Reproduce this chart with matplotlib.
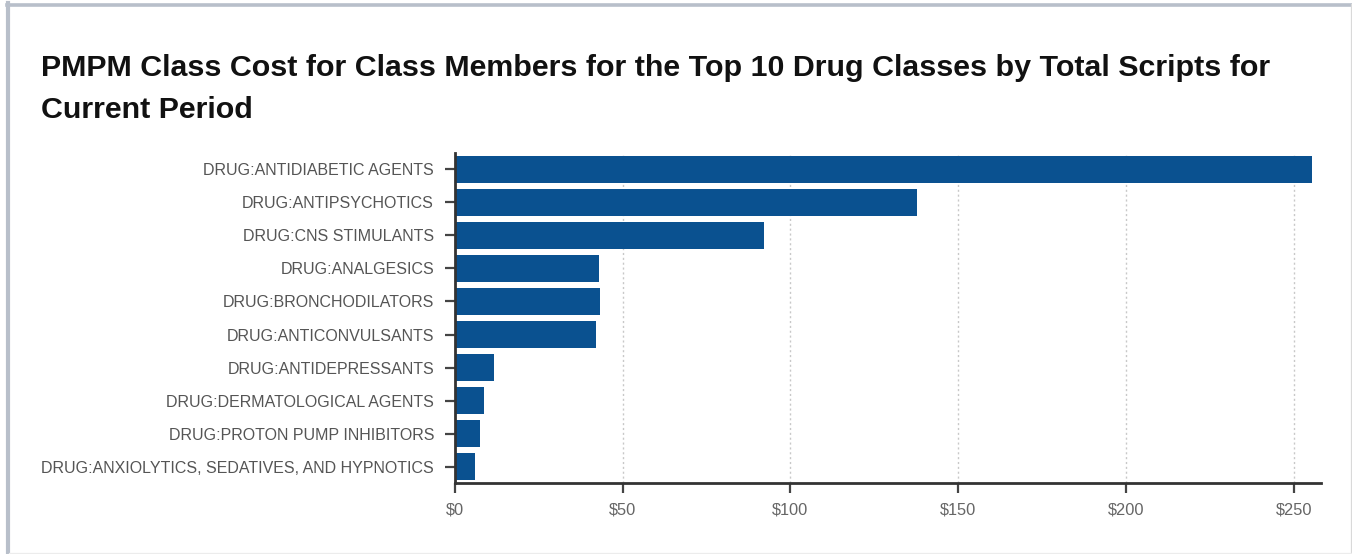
import matplotlib
matplotlib.use("Agg")
import matplotlib.pyplot as plt
from matplotlib.lines import Line2D
from matplotlib.ticker import FuncFormatter, MultipleLocator

plt.rcParams['font.family'] = ['Liberation Sans', 'DejaVu Sans']

classes = [
    "DRUG:ANTIDIABETIC AGENTS",
    "DRUG:ANTIPSYCHOTICS",
    "DRUG:CNS STIMULANTS",
    "DRUG:ANALGESICS",
    "DRUG:BRONCHODILATORS",
    "DRUG:ANTICONVULSANTS",
    "DRUG:ANTIDEPRESSANTS",
    "DRUG:DERMATOLOGICAL AGENTS",
    "DRUG:PROTON PUMP INHIBITORS",
    "DRUG:ANXIOLYTICS, SEDATIVES, AND HYPNOTICS",
]
pmpm_cost = [255.3, 137.7, 92.0, 42.9, 43.2, 42.0, 11.6, 8.7, 7.5, 6.0]

W, H = 1352, 554
fig = plt.figure(figsize=(W / 100, H / 100), dpi=100)

# panel frame: heavier on the left/top, faint on the right/bottom
def frame_line(xs, ys, color, lw):
    fig.lines.append(Line2D([x / W for x in xs], [1 - y / H for y in ys],
                            transform=fig.transFigure, color=color, linewidth=lw))

frame_line([8, 8], [3, 554], '#b8bfca', 3)
frame_line([6.5, 1352], [4.5, 4.5], '#b8bfca', 2.6)
frame_line([1350.8, 1350.8], [4, 554], '#d9d9d9', 0.9)
frame_line([9, 1352], [553, 553], '#ececec', 0.9)

ax = fig.add_axes([0.3365, 0.128, 0.6403, 0.596])

ypos = list(range(len(classes)))
ax.barh(ypos, pmpm_cost, height=0.82, color='#0a5190', zorder=2)
ax.set_yticks(ypos)
ax.set_yticklabels(classes)
ax.set_ylim(len(classes) - 0.5, -0.5)
ax.set_xlim(0, 258)

ax.xaxis.set_major_locator(MultipleLocator(50))
ax.xaxis.set_major_formatter(FuncFormatter(lambda v, p: f"${v:.0f}"))
ax.grid(axis='x', linestyle=(0, (1.5, 2)), color='#c8c8c8', linewidth=1, zorder=0)

for side in ['top', 'right']:
    ax.spines[side].set_visible(False)
for side in ['left', 'bottom']:
    ax.spines[side].set_color('#333333')
    ax.spines[side].set_linewidth(2)

ax.tick_params(axis='y', length=7, width=1.6, color='#444444', labelsize=11.5,
               labelcolor='#555555', pad=8)
ax.tick_params(axis='x', length=7, width=1.6, color='#444444', labelsize=11.8,
               labelcolor='#666666', pad=7)

fig.text(0.0303, 1 - 118 / H,
         "PMPM Class Cost for Class Members for the Top 10 Drug Classes by Total Scripts for\nCurrent Period",
         fontsize=21.9, fontweight='bold', color='#111111', va='baseline', linespacing=1.62)

fig.savefig("out.png", dpi=100)
